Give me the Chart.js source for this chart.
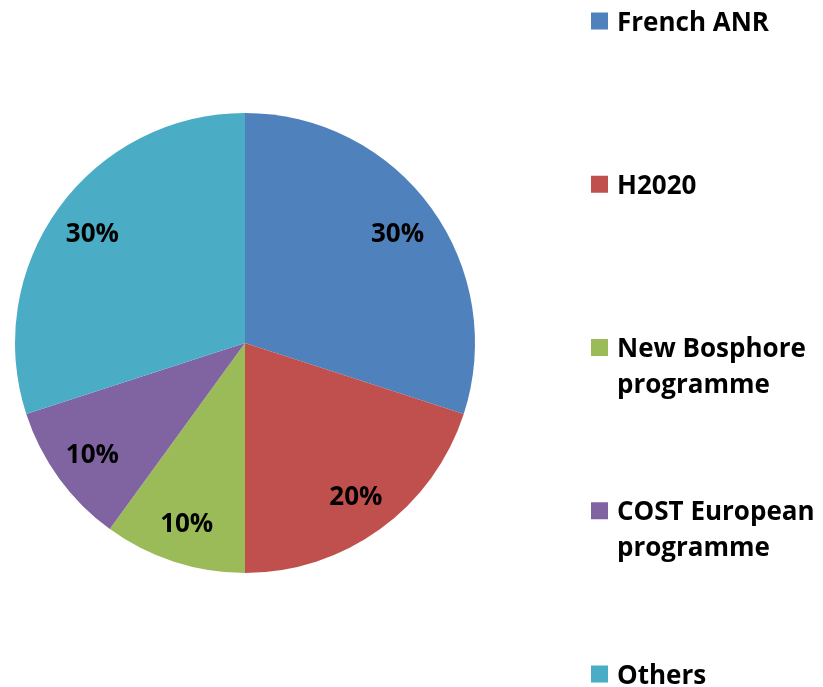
<!DOCTYPE html>
<html>
<head>
<meta charset="utf-8">
<script src="https://cdn.jsdelivr.net/npm/chart.js@4/dist/chart.umd.min.js"></script>
<style>
html,body{margin:0;padding:0;background:#fff;}
#wrap{width:823px;height:687px;position:relative;}
</style>
</head>
<body>
<div id="wrap"><canvas id="c" width="823" height="687"></canvas></div>
<script>
const categories = ["French ANR", "H2020", "New Bosphore programme", "COST European programme", "Others"];
const legendLines = [["French ANR"], ["H2020"], ["New Bosphore", "programme"], ["COST European", "programme"], ["Others"]];
const shares = [30, 20, 10, 10, 30];
const colors = ["#4F81BD", "#C0504D", "#9BBB59", "#8064A2", "#4BACC6"];

const FONT = '"Open Sans", "DejaVu Sans", sans-serif';

const labelPlugin = {
  id: 'sliceLabels',
  afterDatasetsDraw(chart) {
    const ctx = chart.ctx;
    const meta = chart.getDatasetMeta(0);
    const total = shares.reduce((a, b) => a + b, 0);
    ctx.save();
    ctx.fillStyle = '#000';
    ctx.font = 'bold 26px ' + FONT;
    ctx.textAlign = 'center';
    ctx.textBaseline = 'middle';
    meta.data.forEach((arc, i) => {
      const p = arc.getProps(['x', 'y', 'startAngle', 'endAngle', 'outerRadius'], true);
      const mid = (p.startAngle + p.endAngle) / 2;
      const r = p.outerRadius * 0.82;
      const x = p.x + Math.cos(mid) * r;
      const y = p.y + Math.sin(mid) * r + 2;
      ctx.fillText(Math.round(shares[i] / total * 100) + '%', x, y);
    });
    ctx.restore();
  }
};

const legendPlugin = {
  id: 'customLegend',
  afterDraw(chart) {
    const ctx = chart.ctx;
    ctx.save();
    const sqX = 591, sqSize = 17, textX = 617;
    const top = 21, step = 163.25, lineH = 36;
    ctx.font = 'bold 26px ' + FONT;
    ctx.textAlign = 'left';
    ctx.textBaseline = 'alphabetic';
    legendLines.forEach((lines, i) => {
      const cy = top + step * i;
      ctx.fillStyle = colors[i];
      ctx.fillRect(sqX, cy - sqSize / 2, sqSize, sqSize);
      ctx.fillStyle = '#000';
      lines.forEach((t, j) => {
        ctx.fillText(t, textX, cy + 9.5 + j * lineH);
      });
    });
    ctx.restore();
  }
};

new Chart(document.getElementById('c'), {
  type: 'pie',
  data: {
    labels: categories,
    datasets: [{
      data: shares,
      backgroundColor: colors,
      borderWidth: 0
    }]
  },
  options: {
    responsive: false,
    animation: false,
    layout: { padding: { left: 15, right: 348, top: 113, bottom: 114 } },
    plugins: {
      legend: { display: false },
      tooltip: { enabled: false }
    }
  },
  plugins: [labelPlugin, legendPlugin]
});
</script>
</body>
</html>
